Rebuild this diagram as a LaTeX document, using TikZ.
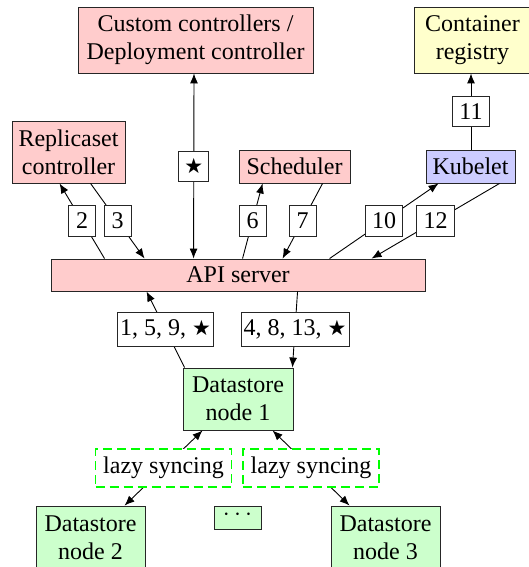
\documentclass[tikz,border=0pt]{standalone}
\usepackage{fontspec}
\setmainfont{Liberation Serif}
\newfontfamily\symfont{DejaVu Sans}
\newcommand{\mystar}{{\fontsize{21}{21}\symfont ★}}
\usetikzlibrary{arrows.meta}
\definecolor{pinkf}{RGB}{255,204,204}
\definecolor{greenf}{RGB}{204,255,204}
\definecolor{bluef}{RGB}{204,204,255}
\definecolor{yellowf}{RGB}{255,255,204}
\definecolor{dgreen}{RGB}{0,255,0}
\tikzset{
  box/.style={draw=black!85, line width=0.9pt, inner sep=0pt, align=center, font=\fontsize{24}{28}\selectfont},
  pinkbox/.style={box, fill=pinkf},
  greenbox/.style={box, fill=greenf},
  lbl/.style={draw=black!85, fill=white, line width=0.9pt, inner sep=0pt, minimum height=31pt, font=\fontsize{24}{28}\selectfont},
  lazy/.style={draw=dgreen, fill=white, dash pattern=on 9pt off 5pt, line width=1.3pt, inner sep=0pt, minimum width=136pt, minimum height=38pt, font=\fontsize{24}{28}\selectfont},
  conn/.style={line width=0.9pt, black},
  tip/.style={-{Latex[length=10pt,width=8pt]}},
  btip/.style={{Latex[length=10pt,width=8pt]}-{Latex[length=10pt,width=8pt]}},
}
\begin{document}
\begin{tikzpicture}[x={(1pt,0)}, y={(0,-1pt)}]
\useasboundingbox (0,0) rectangle (529,567);
% main nodes
\node[pinkbox, minimum width=235pt, minimum height=66pt] (cc) at (195.5,40) {Custom controllers /\\Deployment controller};
\node[box, fill=yellowf, minimum width=117pt, minimum height=66pt] (reg) at (472.5,40) {Container\\registry};
\node[pinkbox, minimum width=113pt, minimum height=62pt] (rs) at (68.5,152) {Replicaset\\controller};
\node[pinkbox, minimum width=111pt, minimum height=33pt] (sch) at (294.5,166.5) {Scheduler};
\node[box, fill=bluef, minimum width=89pt, minimum height=33pt] (kub) at (470.5,166.5) {Kubelet};
\node[pinkbox, minimum width=374pt, minimum height=32pt] (api) at (238,275) {API server};
\node[greenbox, minimum width=110pt, minimum height=62pt] (ds1) at (238,399) {Datastore\\node 1};
\node[greenbox, minimum width=109pt, minimum height=63pt] (ds2) at (90.5,537.5) {Datastore\\node 2};
\node[greenbox, minimum width=47pt, minimum height=23pt] (dots) at (237.5,517.5) {\raisebox{6pt}{$\cdots$}};
\node[greenbox, minimum width=109pt, minimum height=63pt] (ds3) at (385.5,537.5) {Datastore\\node 3};
% connectors
\draw[conn, tip] ([xshift=54pt]api.north west) -- node[lbl, minimum width=27pt] {2} ([xshift=48pt]rs.south west);
\draw[conn, tip] ([xshift=79pt]rs.south west) -- node[lbl, minimum width=27pt] {3} ([xshift=94pt]api.north west);
\draw[conn, btip] ([xshift=143pt]api.north west) -- node[lbl, minimum width=30pt, minimum height=30pt] {\mystar} ([xshift=-1.5pt]cc.south);
\draw[conn, tip] ([xshift=192pt]api.north west) -- node[lbl, minimum width=27pt] {6} ([xshift=24pt]sch.south west);
\draw[conn, tip] ([xshift=84pt]sch.south west) -- node[lbl, minimum width=27pt] {7} ([xshift=232pt]api.north west);
\draw[conn, tip] ([xshift=279pt]api.north west) -- node[lbl, minimum width=37pt] {10} ([xshift=13pt]kub.south west);
\draw[conn, tip] ([xshift=74pt]kub.south west) -- node[lbl, minimum width=38pt] {12} ([xshift=321pt]api.north west);
\draw[conn, tip] ([xshift=0.5pt]kub.north) -- node[lbl, minimum width=37pt, minimum height=30pt] {11} ([xshift=-1.5pt]reg.south);
\draw[conn, tip] ([xshift=2pt]ds1.north west) -- node[lbl, minimum width=96pt, minimum height=34pt] {1, 5, 9, \mystar} ([xshift=96pt]api.south west);
\draw[conn, tip] ([xshift=247pt]api.south west) -- node[lbl, minimum width=108pt, minimum height=34pt] {4, 8, 13, \mystar} ([xshift=-1pt]ds1.north east);
\draw[conn, btip] ([xshift=89pt]ds2.north west) -- node[lazy] {lazy syncing} ([xshift=20pt]ds1.south west);
\draw[conn, btip] ([xshift=90pt]ds1.south west) -- node[lazy] {lazy syncing} ([xshift=19pt]ds3.north west);
\end{tikzpicture}
\end{document}
